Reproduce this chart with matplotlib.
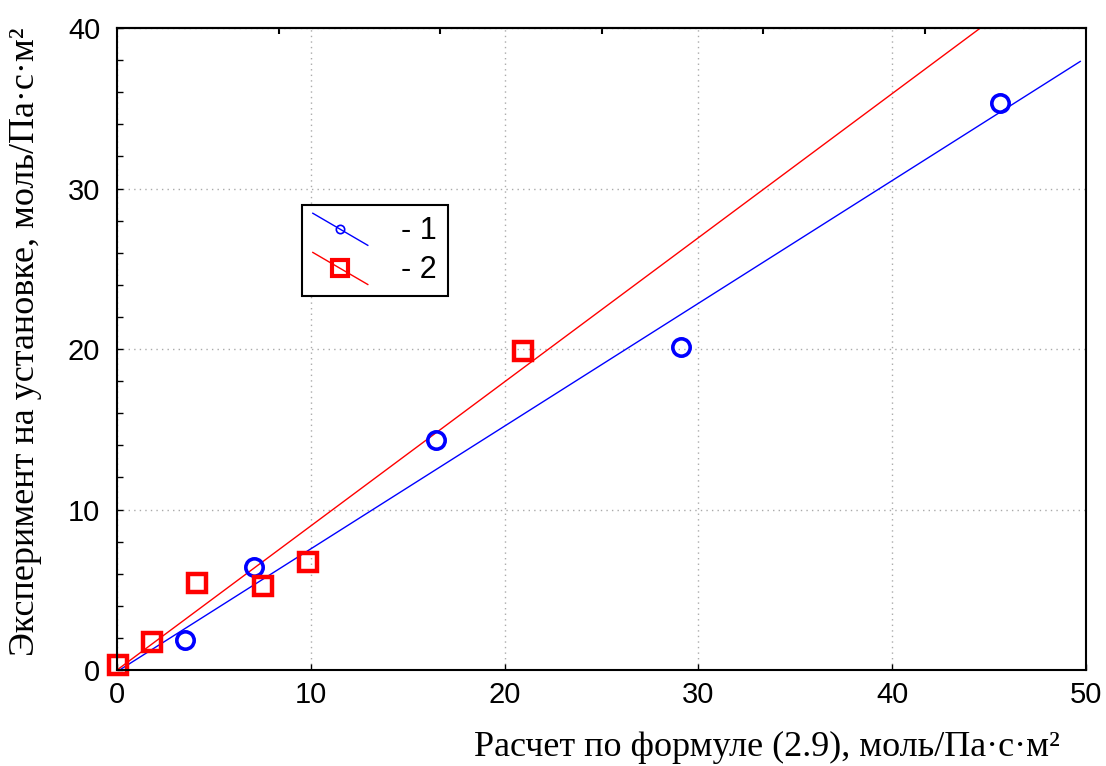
import numpy as np
import matplotlib
matplotlib.use('Agg')
import matplotlib.pyplot as plt
from matplotlib.lines import Line2D
from matplotlib.legend_handler import HandlerLine2D
from matplotlib.ticker import MultipleLocator

# данные
x1 = [3.5, 7.05, 16.45, 29.1, 45.55]
y1 = [1.85, 6.4, 14.35, 20.15, 35.3]
x2 = [0.05, 1.8, 4.15, 7.55, 9.85, 20.95]
y2 = [0.3, 1.75, 5.45, 5.25, 6.75, 19.9]

# линии регрессии (наклон, начало, конец по x)
k1, b1, xe1 = 0.765, -0.1, 49.7
k2, b2, xe2 = 0.898, 0.0, 45.0


class DiagHandler(HandlerLine2D):
    # наклонная линия в легенде, как в оригинале
    def create_artists(self, legend, orig_handle, xdescent, ydescent,
                       width, height, fontsize, trans):
        xs = [-xdescent, -xdescent + width]
        ys = [-ydescent + height * 1.2, -ydescent - height * 0.3]
        ln = Line2D(xs, ys)
        self.update_prop(ln, orig_handle, legend)
        ln.set_marker('')
        ln.set_transform(trans)
        mk = Line2D([np.mean(xs)], [np.mean(ys)])
        self.update_prop(mk, orig_handle, legend)
        mk.set_linestyle('')
        mk.set_transform(trans)
        return [ln, mk]


fig = plt.figure(figsize=(11.06, 7.66), dpi=100)
ax = fig.add_axes([0.1058, 0.1253, 0.8762, 0.8381])

xx1 = np.array([0, xe1])
xx2 = np.array([0, xe2])
ax.plot(xx1, k1 * xx1 + b1, color='blue', lw=1)
ax.plot(xx2, k2 * xx2 + b2, color='red', lw=1)
ax.plot(x1, y1, 'o', ms=12.5, mfc='none', mec='blue', mew=2.6, clip_on=False)
ax.plot(x2, y2, 's', ms=13.5, mfc='none', mec='red', mew=3.2, clip_on=False)

ax.set_xlim(0, 50)
ax.set_ylim(0, 40)
ax.set_xticks([0, 10, 20, 30, 40, 50])
ax.set_yticks([0, 10, 20, 30, 40])
ax.yaxis.set_minor_locator(MultipleLocator(2))
ax.grid(True, which='major', ls=(0, (1, 3)), color='#aaaaaa', lw=1)
ax.tick_params(which='both', direction='in', length=4, width=1)
ax.tick_params(axis='y', pad=12)
ax.tick_params(axis='x', pad=8)
for t in ax.get_xticklabels() + ax.get_yticklabels():
    t.set_fontfamily('Liberation Sans')
    t.set_fontsize(21)
for s in ax.spines.values():
    s.set_linewidth(1.5)

# засечки на верхней оси
top = ax.secondary_xaxis('top')
top.set_xticks([50 * i / 6 for i in range(1, 6)])
top.tick_params(direction='in', length=4, width=1.5, labeltop=False)
top.spines['top'].set_linewidth(1.5)

ax.set_xlabel('Расчет по формуле (2.9), моль/Па·с·м²', family='Liberation Serif',
              fontsize=26, loc='right')
ax.xaxis.set_label_coords(0.973, -0.095)
ax.set_ylabel('Эксперимент на установке, моль/Па·с·м²', family='Liberation Serif',
              fontsize=26)
ax.yaxis.set_label_coords(-0.077, 0.511)

h1 = Line2D([], [], color='blue', lw=1, marker='o', ms=6, mfc='none', mec='blue', mew=1.2)
h2 = Line2D([], [], color='red', lw=1, marker='s', ms=11, mfc='none', mec='red', mew=3)
leg = ax.legend([h1, h2], ['- 1', '- 2'], loc='upper left',
                bbox_to_anchor=(0.191, 0.724), borderaxespad=0,
                handler_map={Line2D: DiagHandler()},
                prop={'family': 'Liberation Sans', 'size': 22},
                fancybox=False, framealpha=1, edgecolor='black',
                handlelength=1.8, handletextpad=1.1, labelspacing=0.3,
                borderpad=0.35)
leg.get_frame().set_linewidth(1.5)

fig.savefig('out.png', dpi=100)
